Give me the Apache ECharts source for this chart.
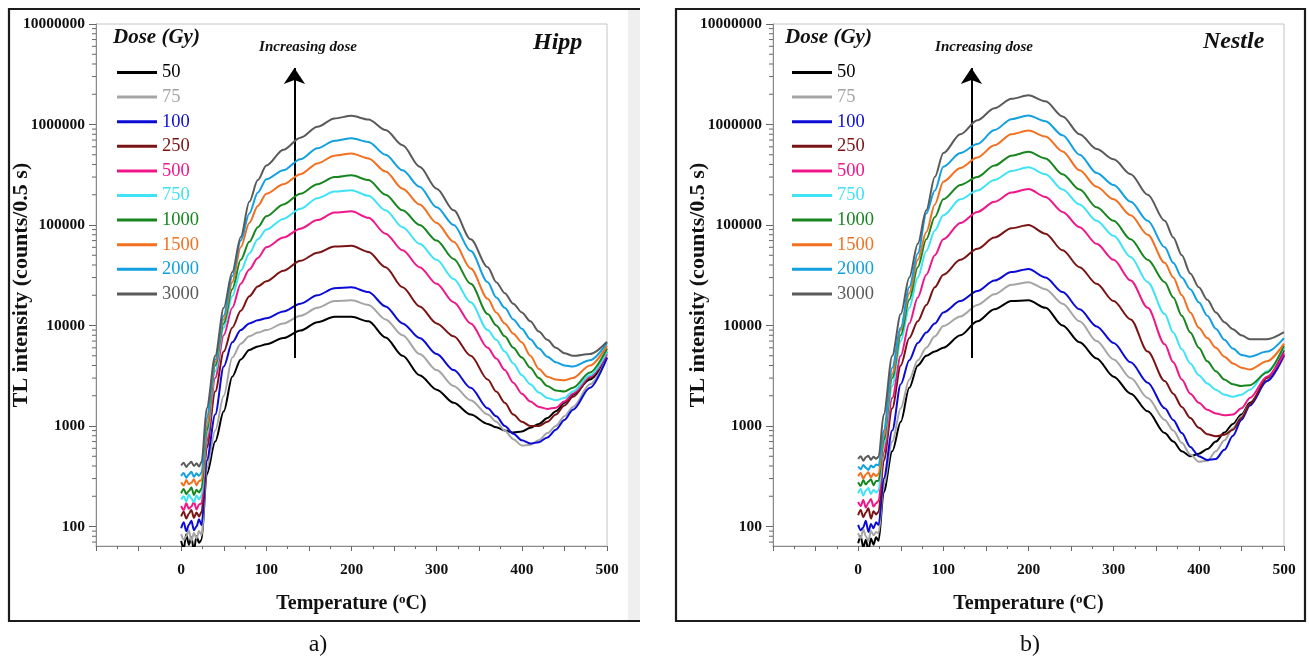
<!DOCTYPE html>
<html>
<head>
<meta charset="utf-8">
<script src="https://cdn.jsdelivr.net/npm/echarts@6/dist/echarts.min.js"></script>
<style>
  html, body { margin: 0; padding: 0; background: #ffffff; }
  #chart { width: 1309px; height: 663px; }
</style>
</head>
<body>
<div id="chart"></div>
<script>
// Temperature grid (°C) shared by every glow curve
const TEMPS = [0, 3, 6, 9, 12, 15, 18, 21, 24, 30, 40, 50, 60, 70, 80, 90, 100,
  120, 140, 160, 180, 200, 220, 240, 260, 280, 300, 320, 340, 360,
  370, 380, 390, 400, 410, 420, 430, 440, 450, 460, 480, 500];

// Doses (Gy) and their curve colours
const DOSES = ['50', '75', '100', '250', '500', '750', '1000', '1500', '2000', '3000'];
const COLORS = ['#000000', '#a5a5a5', '#0b0bd6', '#7a1414', '#ef168a', '#3fe3f5',
  '#17861f', '#f2701f', '#12a0e0', '#5a5a5a'];

// TL intensity (counts / 0.5 s) — Hipp
const hipp50 = [72, 60, 84, 66, 78, 58, 80, 69, 74, 330, 700, 1400, 3100, 4600, 5700, 6200, 6500,
  7500, 8900, 10800, 12200, 12200, 11000, 7600, 5000, 3200, 2300, 1700, 1300, 1050,
  970, 900, 860, 880, 960, 1050, 1200, 1400, 1700, 2050, 2900, 4800];
const hipp75 = [84, 74, 80, 92, 72, 86, 76, 90, 82, 380, 900, 2000, 4800, 6600, 7800, 8500, 9000,
  10500, 12500, 15000, 17500, 17800, 16000, 11500, 8000, 5200, 3600, 2500, 1800, 1300,
  1100, 900, 740, 640, 650, 720, 850, 1000, 1250, 1550, 2600, 4800];
const hipp100 = [96, 110, 90, 104, 114, 92, 100, 118, 103, 450, 1300, 3900, 6800, 9000, 10500, 11300, 11800,
  13800, 16500, 20000, 23500, 24000, 21500, 15500, 10500, 7500, 5200, 3600, 2400, 1500,
  1250, 1000, 840, 720, 670, 690, 770, 920, 1150, 1450, 2400, 4800];
const hipp250 = [126, 140, 120, 134, 146, 122, 138, 126, 140, 600, 2200, 5500, 9500, 14000, 19500, 24500, 27500,
  35000, 44000, 53000, 61000, 62000, 54000, 38000, 24000, 15500, 10500, 7800, 5000, 2900,
  2200, 1700, 1300, 1100, 1000, 1000, 1100, 1300, 1600, 1950, 3000, 5500];
const hipp500 = [160, 146, 170, 150, 158, 176, 148, 166, 170, 700, 3000, 8000, 15000, 26000, 36000, 47000, 60000,
  75000, 92000, 112000, 133000, 137000, 118000, 82000, 56000, 38000, 26000, 17000, 10500, 6000,
  4700, 3600, 2700, 2100, 1750, 1550, 1480, 1520, 1750, 2100, 3100, 5200];
const hipp750 = [186, 200, 178, 208, 190, 174, 204, 186, 205, 800, 3500, 9500, 19500, 35000, 52000, 72000, 90000,
  115000, 145000, 185000, 215000, 222000, 195000, 140000, 95000, 65000, 45000, 29000, 17000, 9000,
  7200, 5500, 4200, 3200, 2600, 2150, 1900, 1800, 1900, 2200, 3200, 5500];
const hipp1000 = [214, 236, 210, 226, 244, 206, 232, 218, 240, 900, 4000, 10500, 23000, 45000, 68000, 95000, 122000,
  160000, 205000, 255000, 300000, 312000, 280000, 200000, 140000, 100000, 70000, 46000, 26000, 13000,
  10000, 7800, 6000, 4800, 3800, 3000, 2500, 2250, 2200, 2400, 3400, 5900];
const hipp1500 = [276, 256, 290, 264, 272, 296, 258, 284, 290, 1000, 4300, 11500, 27000, 60000, 105000, 155000, 205000,
  255000, 320000, 410000, 490000, 515000, 460000, 340000, 230000, 160000, 105000, 68000, 37000, 18500,
  13500, 10500, 8300, 6800, 5000, 3700, 3100, 2900, 2850, 3000, 4000, 6300];
const hipp2000 = [318, 340, 306, 330, 350, 312, 338, 320, 345, 1200, 4600, 12500, 31000, 70000, 130000, 210000, 285000,
  350000, 450000, 580000, 690000, 730000, 670000, 500000, 350000, 240000, 150000, 100000, 55000, 27000,
  19000, 15000, 11500, 9300, 7300, 5900, 4900, 4300, 4000, 3900, 4500, 6700];
const hipp3000 = [405, 430, 392, 418, 440, 400, 425, 396, 440, 1500, 5000, 15000, 34000, 76000, 170000, 280000, 390000,
  560000, 740000, 950000, 1150000, 1220000, 1120000, 880000, 620000, 380000, 230000, 140000, 72000, 38000,
  27000, 21000, 16500, 13500, 11000, 8700, 7200, 6000, 5300, 5000, 5200, 6900];

// TL intensity (counts / 0.5 s) — Nestle
const nestle50 = [68, 80, 62, 74, 58, 76, 66, 78, 72, 220, 560, 1100, 2400, 4000, 5000, 5500, 6000,
  8000, 11000, 14500, 17500, 17800, 15000, 10000, 6800, 4700, 3100, 2100, 1400, 850,
  700, 560, 500, 530, 590, 700, 860, 1050, 1300, 1700, 2800, 5000];
const nestle75 = [86, 76, 94, 80, 72, 90, 82, 88, 86, 260, 700, 1500, 2900, 4500, 6000, 7800, 9900,
  12300, 16000, 20500, 25500, 27000, 23000, 16500, 11000, 7000, 4600, 3000, 1900, 1150,
  900, 680, 520, 440, 450, 560, 720, 950, 1250, 1650, 2800, 5000];
const nestle100 = [104, 92, 98, 114, 88, 106, 96, 110, 104, 300, 900, 2600, 4500, 6700, 8500, 10500, 13500,
  17500, 22000, 28000, 34000, 36500, 30000, 21500, 14500, 9800, 6700, 4300, 2700, 1500,
  1150, 850, 620, 500, 460, 470, 580, 800, 1150, 1600, 2800, 5100];
const nestle250 = [130, 146, 124, 138, 152, 120, 142, 132, 140, 450, 1500, 4000, 7500, 11000, 16000, 24000, 32000,
  45000, 58000, 75000, 93000, 100000, 82000, 56000, 38000, 26000, 17500, 11500, 5500, 2800,
  2100, 1550, 1200, 960, 830, 790, 820, 920, 1200, 1650, 3000, 5700];
const nestle500 = [176, 160, 184, 154, 172, 188, 158, 170, 180, 550, 1900, 5000, 10500, 19000, 32000, 50000, 72000,
  105000, 135000, 170000, 210000, 228000, 190000, 135000, 95000, 65000, 45000, 28000, 15000, 6500,
  4300, 2900, 2100, 1700, 1450, 1330, 1280, 1300, 1500, 1900, 3100, 5300];
const nestle750 = [214, 236, 204, 228, 242, 210, 232, 218, 230, 650, 2500, 7000, 15000, 30000, 55000, 88000, 125000,
  180000, 220000, 280000, 345000, 375000, 320000, 225000, 160000, 110000, 78000, 48000, 27000, 13000,
  8500, 5800, 4200, 3200, 2650, 2300, 2050, 1950, 2050, 2300, 3500, 6000];
const nestle1000 = [276, 254, 290, 262, 280, 296, 258, 284, 285, 720, 3000, 8000, 18000, 38000, 72000, 120000, 180000,
  250000, 300000, 390000, 490000, 535000, 460000, 320000, 225000, 150000, 110000, 72000, 45000, 27000,
  19000, 12500, 8500, 6000, 4400, 3500, 2900, 2600, 2500, 2550, 3400, 6300];
const nestle1500 = [316, 340, 300, 330, 346, 308, 336, 318, 335, 800, 3300, 9000, 21000, 45000, 85000, 160000, 270000,
  370000, 470000, 620000, 800000, 870000, 760000, 540000, 350000, 240000, 180000, 125000, 80000, 42000,
  30000, 20000, 13500, 9500, 7500, 6000, 4900, 4200, 3800, 3650, 4400, 6600];
const nestle2000 = [396, 372, 410, 384, 366, 404, 388, 414, 405, 900, 3800, 9500, 24000, 52000, 130000, 220000, 380000,
  520000, 640000, 880000, 1130000, 1230000, 1080000, 780000, 500000, 330000, 250000, 170000, 110000, 60000,
  42000, 30000, 23000, 17000, 12500, 9300, 7200, 5900, 5100, 4900, 5500, 7500];
const nestle3000 = [470, 500, 452, 488, 506, 460, 494, 472, 495, 1300, 5000, 13000, 30000, 65000, 140000, 300000, 520000,
  800000, 1100000, 1450000, 1800000, 1950000, 1700000, 1200000, 800000, 570000, 450000, 320000, 200000, 110000,
  75000, 50000, 33000, 24000, 18000, 13500, 10800, 9200, 8000, 7300, 7300, 8600];

const HIPP = [hipp50, hipp75, hipp100, hipp250, hipp500, hipp750, hipp1000, hipp1500, hipp2000, hipp3000];
const NESTLE = [nestle50, nestle75, nestle100, nestle250, nestle500, nestle750, nestle1000, nestle1500, nestle2000, nestle3000];

// Axis ranges and labelled ticks
const X_MIN = -100, X_MAX = 500, X_STEP = 50;
const X_LABELS = [0, 100, 200, 300, 400, 500];
const Y_MIN = 64, Y_MAX = 1e7;
const Y_LABELS = [100, 1000, 10000, 100000, 1000000, 10000000];

// "Increasing dose" arrow, in data units
const ARROW_T = 133;
const ARROW_FROM = 4750;
const ARROW_TO = 3.65e6;

const SERIF = '"Liberation Serif", "Times New Roman", serif';

// minor log ticks 2..9 × 10^k inside the range
const MINOR = [];
for (let k = 1; k <= 6; k++) {
  for (let m = 2; m <= 9; m++) {
    const v = m * Math.pow(10, k);
    if (v >= Y_MIN && v <= Y_MAX) MINOR.push(v);
  }
}

const chart = echarts.init(document.getElementById('chart'), null, { renderer: 'canvas' });

const GRIDS = [
  { left: 96, top: 24, width: 511, height: 522 },
  { left: 773, top: 24, width: 511, height: 522 }
];

function xAxisFor(i) {
  return {
    type: 'value', gridIndex: i, min: X_MIN, max: X_MAX, interval: X_STEP,
    name: 'Temperature ({sup|o}C)', nameLocation: 'middle', nameGap: 47, nameMoveOverlap: false,
    nameTextStyle: {
      fontFamily: SERIF, fontWeight: 'bold', fontSize: 20, color: '#111',
      rich: { sup: { fontFamily: SERIF, fontWeight: 'bold', fontSize: 13, color: '#111', verticalAlign: 'top', lineHeight: 22 } }
    },
    axisLine: { show: true, onZero: false, lineStyle: { color: '#8a8a8a', width: 1 } },
    axisTick: { show: true, inside: false, length: 5, lineStyle: { color: '#666' } },
    minorTick: { show: true, splitNumber: 2, length: 3, lineStyle: { color: '#666' } },
    splitLine: { show: false },
    axisLabel: {
      fontFamily: SERIF, fontWeight: 'bold', fontSize: 15.5, color: '#111', margin: 16,
      formatter: v => (X_LABELS.indexOf(v) >= 0 ? String(v) : '')
    }
  };
}

function yAxisFor(i) {
  return {
    type: 'log', logBase: 10, gridIndex: i, min: Y_MIN, max: Y_MAX,
    name: 'TL intensity (counts/0.5 s)', nameLocation: 'middle', nameGap: 64, nameRotate: 90, nameMoveOverlap: false,
    nameTextStyle: { fontFamily: SERIF, fontWeight: 'bold', fontSize: 22, color: '#111' },
    axisLine: { show: true, onZero: false, lineStyle: { color: '#8a8a8a', width: 1 } },
    axisTick: { show: true, inside: false, length: 7, customValues: Y_LABELS, lineStyle: { color: '#666' } },
    splitLine: { show: false },
    axisLabel: {
      fontFamily: SERIF, fontWeight: 'bold', fontSize: 15.5, color: '#111', margin: 11,
      customValues: Y_LABELS,
      formatter: v => String(Math.round(v))
    }
  };
}

const series = [];
[HIPP, NESTLE].forEach((set, g) => {
  set.forEach((vals, i) => {
    const s = {
      type: 'line', name: DOSES[i], xAxisIndex: g, yAxisIndex: g,
      data: TEMPS.map((t, j) => [t, vals[j]]),
      symbol: 'none', smooth: 0.3, smoothMonotone: 'x',
      lineStyle: { width: 2, color: COLORS[i] },
      itemStyle: { color: COLORS[i] },
      z: 2 + i
    };
    if (i === 0) {
      s.markLine = {
        silent: true, symbol: ['none', 'arrow'], symbolSize: 16,
        lineStyle: { color: '#000', width: 2, type: 'solid' },
        label: { show: false },
        data: [[{ coord: [ARROW_T, ARROW_FROM] }, { coord: [ARROW_T, ARROW_TO] }]]
      };
    }
    series.push(s);
  });
  series.push({
    type: 'custom', name: 'minor-' + g, xAxisIndex: g, yAxisIndex: g, silent: true, clip: false,
    data: MINOR.map(v => [X_MIN, v]),
    renderItem: (params, api) => {
      const p = api.coord([api.value(0), api.value(1)]);
      return { type: 'line', shape: { x1: p[0] - 4, y1: p[1], x2: p[0], y2: p[1] }, style: { stroke: '#666', lineWidth: 1 } };
    }
  });
});

function legendFor(left) {
  return {
    data: DOSES.map((d, i) => ({ name: d, icon: 'rect', textStyle: { color: COLORS[i] } })),
    orient: 'vertical', left: left, top: 63, padding: 0,
    itemWidth: 40, itemHeight: 3, itemGap: 5.6,
    selectedMode: false,
    textStyle: { fontFamily: SERIF, fontSize: 18.5, lineHeight: 19 }
  };
}

function txt(x, y, text, font, align) {
  return {
    type: 'text', x: x, y: y, silent: true,
    style: { text: text, font: font, fill: '#111', textAlign: align || 'left', textVerticalAlign: 'middle', align: align || 'left', verticalAlign: 'middle' }
  };
}

const frameStyle = { stroke: '#1c1c1c', lineWidth: 2.2, fill: null };

const graphic = [
  { type: 'rect', shape: { x: 628, y: 10, width: 12, height: 610 }, style: { fill: '#efefef' }, silent: true, z: -10 },
  { type: 'polyline', shape: { points: [[640, 9], [9, 9], [9, 621], [640, 621]] }, style: frameStyle, silent: true },
  { type: 'rect', shape: { x: 676, y: 9, width: 629, height: 612 }, style: frameStyle, silent: true },
  txt(113, 38, 'Dose (Gy)', 'italic bold 21px ' + SERIF),
  txt(785, 38, 'Dose (Gy)', 'italic bold 21px ' + SERIF),
  txt(308, 47, 'Increasing dose', 'italic bold 15px ' + SERIF, 'center'),
  txt(984, 47, 'Increasing dose', 'italic bold 15px ' + SERIF, 'center'),
  txt(533, 43, 'Hipp', 'italic bold 24px ' + SERIF),
  txt(1203, 42, 'Nestle', 'italic bold 24px ' + SERIF),
  txt(318, 645, 'a)', '24px ' + SERIF, 'center'),
  txt(1030, 645, 'b)', '24px ' + SERIF, 'center')
];

chart.setOption({
  animation: false,
  backgroundColor: '#ffffff',
  grid: GRIDS.map(g => Object.assign({ show: true, borderColor: '#c4c4c4', borderWidth: 1, backgroundColor: '#ffffff', containLabel: false, outerBoundsMode: 'none' }, g)),
  xAxis: [xAxisFor(0), xAxisFor(1)],
  yAxis: [yAxisFor(0), yAxisFor(1)],
  legend: [legendFor(117), legendFor(792)],
  series: series,
  graphic: graphic
});
</script>
</body>
</html>
